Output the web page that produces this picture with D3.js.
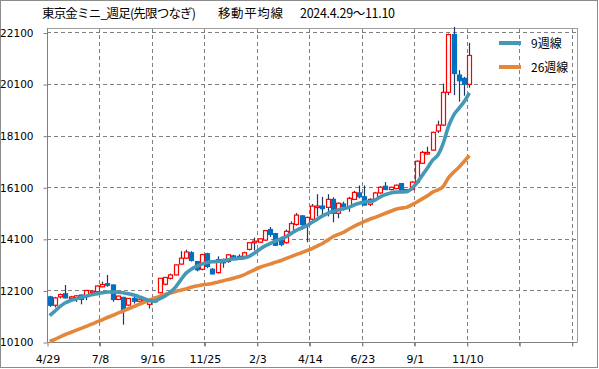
<!DOCTYPE html>
<html><head><meta charset="utf-8">
<script src="https://cdn.jsdelivr.net/npm/d3@7"></script>
<style>html,body{margin:0;padding:0;background:#fff;}svg{display:block;}</style>
</head><body>
<svg id="c" width="599" height="369"></svg>
<script>
const titleParts = ["東京金ミニ_週足(先限つなぎ)", "移動平均線", "2024.4.29～11.10"];
const dates = ["4/29","5/6","5/13","5/20","5/27","6/3","6/10","6/17","6/24","7/1",
"7/8","7/15","7/22","7/29","8/5","8/12","8/19","8/26","9/2","9/9",
"9/16","9/23","9/30","10/7","10/14","10/21","10/28","11/4","11/11","11/18",
"11/25","12/2","12/9","12/16","12/23","12/30","1/6","1/13","1/20","1/27",
"2/3","2/10","2/17","2/24","3/3","3/10","3/17","3/24","3/31","4/7",
"4/14","4/21","4/28","5/5","5/12","5/19","5/26","6/2","6/9","6/16",
"6/23","6/30","7/7","7/14","7/21","7/28","8/4","8/11","8/18","8/25",
"9/1","9/8","9/15","9/22","9/29","10/6","10/13","10/20","10/27","11/3","11/10"];
const open = [11850,11525,11850,11970,11800,11810,11920,11880,12010,12050,
12240,12360,12310,11750,11830,11530,11790,11680,11700,11560,
11830,12010,12340,12570,12700,13120,13350,13560,13220,12920,
13520,12920,12790,13300,13220,13440,13420,13420,13690,13950,
13970,14050,14460,14300,14050,13950,14350,14660,14990,14620,
14860,15320,15370,15320,15630,15090,15450,15350,15630,15880,
15730,15440,15630,15880,16140,16010,16050,16240,15960,16010,
16300,17030,17420,17540,18280,18510,19780,22020,20450,20320,20090];
const high = [11890,11850,11980,12310,11890,11920,11940,12110,12110,12290,
12440,12700,12330,11900,11850,11800,11880,11790,11800,11720,
11860,12580,12630,12750,13100,13620,13680,13620,13230,13520,
13560,12960,13420,13330,13500,13480,13500,13600,13960,14150,
14120,14430,14560,14330,14130,14460,14780,15100,15020,14960,
15450,15830,15730,15830,15710,15510,15540,15730,15960,16170,
16170,15670,15920,16140,16300,16120,16200,16260,16030,16330,
17140,17510,17670,18250,18680,20120,22060,22320,20640,20380,21700];
const low = [11460,11440,11790,11790,11720,11650,11560,11720,11920,12020,
12220,12240,11660,11720,10770,11500,11590,11650,11650,11400,
11610,11990,12300,12520,12690,13100,13320,13220,12840,12880,
12960,12720,12760,12980,13170,13300,13280,13400,13650,13650,
13950,14020,14180,13830,13810,13920,14320,14610,14460,13970,
14830,14970,14970,14970,14740,14900,15200,15150,15600,15670,
15390,15370,15600,15850,16010,15980,16020,15920,15940,15990,
16270,17000,17360,17510,18200,18470,19670,19670,19420,19650,19960];
const close = [11525,11810,11940,11810,11850,11890,11750,12100,12070,12270,
12330,12300,11750,11880,11350,11790,11680,11760,11780,11690,
11660,12570,12600,12700,13090,13350,13590,13260,12900,13490,
13030,12740,13290,13170,13480,13390,13320,13560,13950,14010,
14100,14420,14270,13850,13880,14390,14690,15020,14650,14930,
15370,15370,15270,15630,15090,15480,15350,15670,15900,15730,
15410,15630,15880,16100,16010,16100,16180,15960,16010,16300,
17110,17450,17450,18230,18510,19780,22020,20510,20230,20090,21210];
const ma9 = [11120,11300,11480,11620,11710,11770,11830,11880,11930,11970,
12010,12040,12040,12030,12010,11970,11920,11860,11780,11710,
11690,11780,11880,12030,12230,12510,12770,12920,13030,13120,
13180,13210,13220,13250,13290,13320,13340,13360,13420,13540,
13690,13820,13910,14010,14100,14180,14300,14430,14520,14610,
14740,14860,14990,15090,15160,15220,15270,15320,15410,15480,
15530,15540,15600,15730,15820,15880,15910,15920,15930,16050,
16270,16560,16850,17150,17350,17800,18450,18900,19160,19420,19760];
const ma26 = [10120,10200,10300,10390,10470,10550,10630,10710,10790,10880,
10960,11050,11130,11220,11300,11390,11470,11560,11640,11720,
11800,11870,11940,12000,12060,12110,12160,12220,12270,12310,
12340,12370,12420,12470,12520,12570,12630,12700,12800,12900,
12990,13060,13120,13190,13250,13330,13410,13490,13560,13640,
13720,13820,13920,14050,14180,14270,14350,14470,14580,14680,
14780,14860,14930,15010,15090,15170,15250,15290,15320,15420,
15530,15650,15770,15910,16000,16130,16470,16680,16880,17100,17330];
const yTicks = [10100,12100,14100,16100,18100,20100,22100];
const legendNames = ["9週線","26週線"];
const colors = {ma9:"#4699B6", ma26:"#E5873B", up:"#FF0000", down:"#0070C0", wick:"#1F3864", grid:"#808080"};

const svg = d3.select("#c");
const L = 47, R = 577, T = 28, B = 342;
const nSlots = 101;
const x = d3.scaleBand().domain(d3.range(nSlots)).range([L, R]);
const bw = x.bandwidth();
const cx = i => x(i) + bw/2;
const y = d3.scaleLinear().domain([10100, 22300]).range([B, B - 12200*(B-32.5)/12000]);

// outer frame
svg.append("rect").attr("x",0.5).attr("y",0.5).attr("width",597).attr("height",367)
  .attr("fill","#fff").attr("stroke","#8c8c8c");

// title (three segments, placed like the original)
[[42,154],[218,65],[300,95]].forEach((p,k)=>{
  svg.append("text").attr("x",p[0]).attr("y",18).attr("font-family","'Noto Sans CJK JP'")
    .attr("font-size",12.5).attr("fill","#000")
    .attr("textLength",p[1]).attr("lengthAdjust","spacing").text(titleParts[k]);
});

// horizontal grid
const g = svg.append("g");
g.selectAll("line.hg").data(yTicks.slice(1)).join("line")
  .attr("x1",L).attr("x2",R).attr("y1",d=>Math.round(y(d))+0.5).attr("y2",d=>Math.round(y(d))+0.5)
  .attr("stroke",colors.grid).attr("stroke-dasharray","4,3");
// vertical grid
const vIdx = d3.range(10, nSlots, 10);
g.selectAll("line.vg").data(vIdx).join("line")
  .attr("x1",d=>Math.round(x(d))+0.5).attr("x2",d=>Math.round(x(d))+0.5)
  .attr("y1",T).attr("y2",B+4)
  .attr("stroke",colors.grid).attr("stroke-dasharray","4,3");
// plot border top & right
svg.append("line").attr("x1",L).attr("x2",R+0.5).attr("y1",T+0.5).attr("y2",T+0.5).attr("stroke","#a0a0a0");
svg.append("line").attr("x1",R+0.5).attr("x2",R+0.5).attr("y1",T).attr("y2",B).attr("stroke","#a0a0a0");

// axes
const yAxis = d3.axisLeft(y).tickValues(yTicks).tickSize(4).tickPadding(10).tickFormat(d3.format("d"));
const ya = svg.append("g").attr("transform",`translate(${L+0.5},0.5)`).call(yAxis);
ya.select(".domain").attr("stroke","#808080").attr("d",`M0,${T}V${B}`);
ya.selectAll(".tick line").attr("stroke","#808080");
ya.selectAll(".tick text").attr("font-family","'DejaVu Sans'").attr("font-size",10.5).attr("fill","#000");

const labIdx = d3.range(0, nSlots, 10);
const xAxis = d3.axisBottom(d3.scaleLinear().domain([0,nSlots]).range([L,R]))
  .tickValues(labIdx).tickSize(4).tickPadding(9).tickFormat(i => dates[i] || "");
const xa = svg.append("g").attr("transform",`translate(0.5,${B+0.5})`).call(xAxis);
xa.select(".domain").attr("stroke","#808080").attr("d",`M${L},0H${R}`);
xa.selectAll(".tick line").attr("stroke","#808080");
xa.selectAll(".tick text").attr("font-family","'DejaVu Sans'").attr("font-size",11).attr("fill","#000");

// candles
const cg = svg.append("g");
const bodyW = 4;
close.forEach((c,i)=>{
  const o = open[i], h = high[i], l = low[i];
  const xc = Math.round(cx(i)) + 0.5;
  cg.append("line").attr("x1",xc).attr("x2",xc).attr("y1",y(h)).attr("y2",y(l))
    .attr("stroke",colors.wick).attr("stroke-width",1.2);
  const up = c >= o;
  const top = y(Math.max(o,c)), bot = y(Math.min(o,c));
  cg.append("rect").attr("x",xc-bodyW/2).attr("y",top).attr("width",bodyW).attr("height",Math.max(1.5,bot-top))
    .attr("fill", up ? "#fff" : colors.down).attr("stroke", up ? colors.up : colors.down).attr("stroke-width",1.2);
});

// MA lines (drawn over the candles)
const line = d3.line().x((d,i)=>cx(i)).y(d=>y(d)).curve(d3.curveMonotoneX);
svg.append("path").attr("d",line(ma26)).attr("fill","none").attr("stroke",colors.ma26).attr("stroke-width",3.6).attr("stroke-linejoin","round");
svg.append("path").attr("d",line(ma9)).attr("fill","none").attr("stroke",colors.ma9).attr("stroke-width",3.6).attr("stroke-linejoin","round");

// legend
const lg = svg.append("g");
[[colors.ma9, 43],[colors.ma26, 67]].forEach((d,k)=>{
  lg.append("line").attr("x1",499).attr("x2",521).attr("y1",d[1]).attr("y2",d[1]).attr("stroke",d[0]).attr("stroke-width",4);
  lg.append("text").attr("x",531).attr("y",d[1]+4.5).attr("font-family","'Noto Sans CJK JP'").attr("font-size",12).attr("fill","#000").text(legendNames[k]);
});
</script>
</body></html>
